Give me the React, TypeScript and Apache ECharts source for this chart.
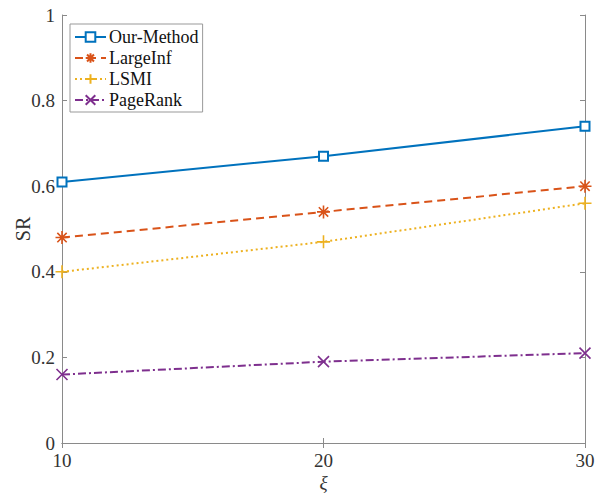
import React, { useEffect, useRef } from "react";
import * as echarts from "echarts";

const xValues = [10, 20, 30];
const ourMethod = [0.61, 0.67, 0.74];
const largeInf = [0.48, 0.54, 0.6];
const lsmi = [0.4, 0.47, 0.56];
const pageRank = [0.16, 0.19, 0.21];
const seriesNames = ["Our-Method", "LargeInf", "LSMI", "PageRank"];

const asterisk = "path://M0,-10L0,10M-10,0L10,0M-7.2,-7.2L7.2,7.2M-7.2,7.2L7.2,-7.2";
const plus = "path://M0,-10L0,10M-10,0L10,0";
const cross = "path://M-10,-10L10,10M-10,10L10,-10";

export default function App() {
  const ref = useRef<HTMLDivElement>(null);
  useEffect(() => {
    const chart = echarts.init(ref.current!, null, { renderer: "svg" });
    const axisColor = "#8a8a8a";
    const textColor = "#333";
    const font = "'Liberation Serif', 'Times New Roman', serif";
    const mk = (name: string, data: number[], color: string, type: any, symbol: string, size: number) => ({
      name,
      type: "line",
      data: data.map((v, i) => [xValues[i], v]),
      symbol,
      symbolSize: size,
      showSymbol: true,
      lineStyle: { color, width: 2, type },
      itemStyle: { color, borderColor: color, borderWidth: 1.6 },
      z: 3,
    });
    chart.setOption({
      animation: false,
      backgroundColor: "#fff",
      textStyle: { fontFamily: font },
      grid: { left: 62, right: 11, top: 15, bottom: 55, containLabel: false, outerBoundsMode: "none" },
      legend: {
        orient: "vertical",
        left: 70,
        top: 24,
        data: seriesNames,
        backgroundColor: "#fff",
        borderColor: "#999",
        borderWidth: 1,
        borderRadius: 0,
        padding: [4, 4, 3, 4],
        itemGap: 3,
        itemWidth: 31,
        itemHeight: 12,
        textStyle: { fontFamily: font, fontSize: 18, color: "#111", padding: [0, 0, 0, -2] },
      },
      xAxis: [
        {
          type: "value",
          min: 10,
          max: 30,
          interval: 10,
          name: "ξ",
          nameLocation: "middle",
          nameGap: 30,
          nameMoveOverlap: false,
          nameTextStyle: { fontFamily: font, fontSize: 19, fontStyle: "italic", color: textColor },
          axisLine: { onZero: false, lineStyle: { color: axisColor, width: 1 } },
          axisTick: { inside: true, length: 5, lineStyle: { color: axisColor } },
          axisLabel: { fontFamily: font, fontSize: 19, color: textColor, margin: 8 },
          splitLine: { show: false },
        },
        {
          type: "value",
          position: "top",
          min: 10,
          max: 30,
          interval: 10,
          axisLine: { show: true, lineStyle: { color: axisColor, width: 1 } },
          axisTick: { show: true, inside: true, length: 5, lineStyle: { color: axisColor } },
          axisLabel: { show: false },
          splitLine: { show: false },
        },
      ],
      yAxis: [
        {
          type: "value",
          min: 0,
          max: 1,
          interval: 0.2,
          name: "SR",
          nameLocation: "middle",
          nameGap: 29,
          nameMoveOverlap: false,
          nameTextStyle: { fontFamily: font, fontSize: 20, color: textColor },
          axisLine: { show: true, onZero: false, lineStyle: { color: axisColor, width: 1 } },
          axisTick: { show: true, inside: true, length: 5, lineStyle: { color: axisColor } },
          axisLabel: {
            fontFamily: font,
            fontSize: 19,
            color: textColor,
            margin: 7,
            formatter: (v: number) => (v === 0 ? "0" : v === 1 ? "1" : v.toFixed(1)),
          },
          splitLine: { show: false },
        },
        {
          type: "value",
          position: "right",
          min: 0,
          max: 1,
          interval: 0.2,
          axisLine: { show: true, lineStyle: { color: axisColor, width: 1 } },
          axisTick: { show: true, inside: true, length: 5, lineStyle: { color: axisColor } },
          axisLabel: { show: false },
          splitLine: { show: false },
        },
      ],
      series: [
        mk(seriesNames[0], ourMethod, "#0072BD", "solid", "emptyRect", 9),
        mk(seriesNames[1], largeInf, "#D95319", [8, 5], asterisk, 13),
        mk(seriesNames[2], lsmi, "#EDB120", [2, 3], plus, 13),
        mk(seriesNames[3], pageRank, "#7E2F8E", [8, 3, 2, 3], cross, 11),
      ],
    });
    return () => chart.dispose();
  }, []);
  return (
    <div
      ref={ref}
      style={{ position: "fixed", left: 0, top: 0, width: 596, height: 498, background: "#fff" }}
    />
  );
}
